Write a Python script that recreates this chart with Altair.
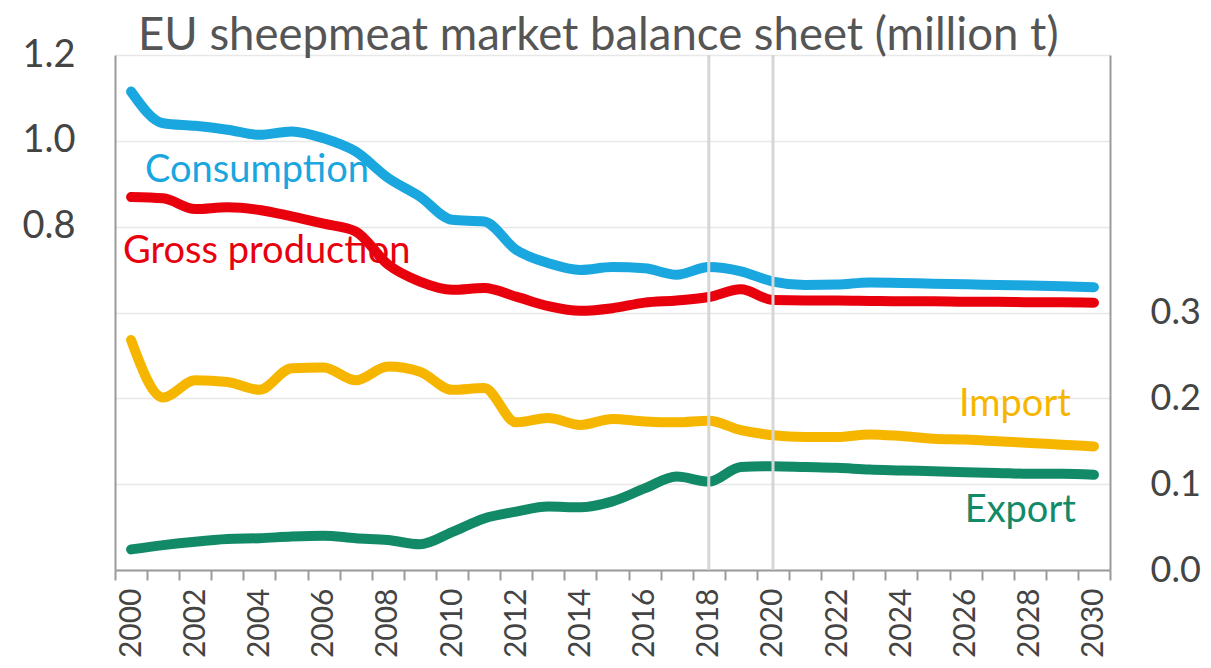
import altair as alt
import pandas as pd

years = list(range(2000, 2031))
consumption = [1.115, 1.041, 1.035, 1.026, 1.014, 1.022, 1.006, 0.975, 0.914, 0.870, 0.816,
               0.812, 0.746, 0.715, 0.699, 0.706, 0.703, 0.688, 0.706, 0.696, 0.672,
               0.664, 0.665, 0.670, 0.669, 0.667, 0.666, 0.664, 0.663, 0.661, 0.659]
production = [0.869, 0.866, 0.841, 0.845, 0.839, 0.824, 0.807, 0.789, 0.712, 0.672, 0.653,
              0.657, 0.637, 0.615, 0.604, 0.610, 0.623, 0.628, 0.636, 0.654, 0.629,
              0.628, 0.628, 0.627, 0.626, 0.626, 0.625, 0.625, 0.624, 0.624, 0.623]
imports = [0.268, 0.201, 0.221, 0.219, 0.210, 0.235, 0.236, 0.221, 0.237, 0.231, 0.210,
           0.212, 0.172, 0.177, 0.169, 0.176, 0.173, 0.172, 0.174, 0.163, 0.157,
           0.155, 0.155, 0.158, 0.156, 0.153, 0.152, 0.150, 0.148, 0.146, 0.144]
exports = [0.024, 0.029, 0.033, 0.036, 0.037, 0.039, 0.040, 0.037, 0.035, 0.030, 0.044,
           0.060, 0.068, 0.074, 0.073, 0.080, 0.095, 0.109, 0.103, 0.120, 0.121,
           0.120, 0.119, 0.117, 0.116, 0.115, 0.114, 0.113, 0.112, 0.112, 0.111]

series_names = ["Consumption", "Gross production", "Import", "Export"]
series_colors = ["#1AA6DF", "#E8000D", "#F6B600", "#128A68"]
marker_years = [2018, 2020]
left_ticks = [0, 0.2, 0.4, 0.6, 0.8, 1.0, 1.2]
right_ticks = [0, 0.1, 0.2, 0.3]

# label anchor points (year, value on the series' axis)
label_year = [2000, 2000, 2029, 2029]
label_value = [0.905, 0.715, 0.1795, 0.0563]

FONT = "Lato"
TXT = "#444444"
AX = "#9A9A9A"

left_df = pd.DataFrame({
    "year": years * 2,
    "value": consumption + production,
    "series": ["Consumption"] * len(years) + ["Gross production"] * len(years),
})
right_df = pd.DataFrame({
    "year": years * 2,
    "value": imports + exports,
    "series": ["Import"] * len(years) + ["Export"] * len(years),
})

x_enc = alt.X(
    "year:O",
    bandPosition=0.5,
    scale=alt.Scale(type="band", paddingInner=0, paddingOuter=0),
    axis=alt.Axis(
        title=None, labelAngle=-90,
        labelExpr="datum.value % 2 == 0 ? datum.label : ''",
        tickBand="extent", tickSize=10, tickColor=AX, tickWidth=2,
        domainColor=AX, domainWidth=2, grid=False,
        labelFontSize=30, labelColor=TXT, labelPadding=8, labelFont=FONT,
    ),
)

y_left = alt.Y(
    "value:Q",
    scale=alt.Scale(domain=[0, 1.2], nice=False, zero=True),
    axis=alt.Axis(
        title=None, values=left_ticks, format=".1f",
        labelExpr="datum.value >= 0.79 ? datum.label : ''",
        grid=True, gridColor="#E8E8E8", gridWidth=1.5, ticks=False,
        domainColor=AX, domainWidth=2,
        labelFontSize=38, labelPadding=40, labelColor=TXT, labelFont=FONT,
    ),
)
y_right = alt.Y(
    "value:Q",
    scale=alt.Scale(domain=[0, 0.6], nice=False, zero=True),
    axis=alt.Axis(
        title=None, orient="right", values=right_ticks, format=".1f",
        grid=False, ticks=False, domainColor=AX, domainWidth=2,
        labelFontSize=36, labelPadding=40, labelColor=TXT, labelFont=FONT,
    ),
)
color_enc = alt.Color("series:N", scale=alt.Scale(domain=series_names, range=series_colors), legend=None)

line_props = dict(strokeWidth=10, interpolate="monotone", strokeCap="round", strokeJoin="round")

left_lines = alt.Chart(left_df).mark_line(**line_props).encode(x=x_enc, y=y_left, color=color_enc, detail="series:N")
right_lines = alt.Chart(right_df).mark_line(**line_props).encode(x=x_enc, y=y_right, color=color_enc, detail="series:N")


def label(i, y_enc, align, dx):
    df = pd.DataFrame({"year": [label_year[i]], "value": [label_value[i]], "series": [series_names[i]]})
    return alt.Chart(df).mark_text(
        align=align, baseline="alphabetic", dx=dx, fontSize=38, font=FONT
    ).encode(x=x_enc, y=y_enc, text="series:N", color=color_enc)


left_layer = alt.layer(left_lines, label(0, y_left, "left", 14), label(1, y_left, "left", -8))
right_layer = alt.layer(right_lines, label(2, y_right, "right", 9), label(3, y_right, "right", 14))

rules = alt.Chart(pd.DataFrame({"year": marker_years})).mark_rule(
    color="#D6D6D6", strokeWidth=3
).encode(x=x_enc)

chart = alt.layer(left_layer, right_layer, rules).resolve_scale(
    y="independent"
).properties(
    width=995, height=515,
    padding={"left": 107, "top": 47, "right": 93, "bottom": 90},
    autosize=alt.AutoSizeParams(type="none"),
    title=alt.Title(
        "EU sheepmeat market balance sheet (million t)",
        fontSize=45.5, font=FONT, fontWeight="normal", color="#555555",
        anchor="start", frame="group", dx=23, offset=-23,
    ),
).configure_view(stroke=None)

chart.save("out.html", embed_options={"renderer": "svg", "actions": False})
